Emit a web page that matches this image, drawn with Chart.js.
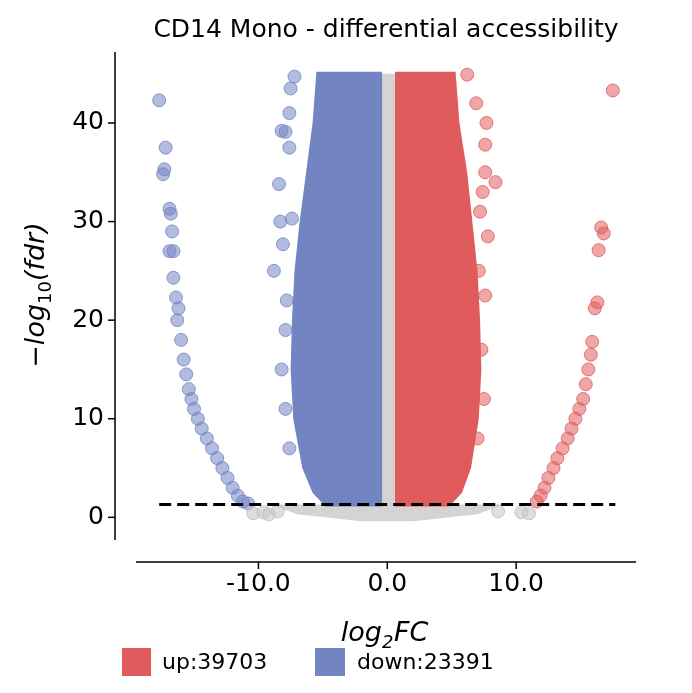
<!DOCTYPE html>
<html><head><meta charset="utf-8">
<script src="https://cdn.jsdelivr.net/npm/chart.js@4"></script>
<style>body{margin:0;background:#fff}#wrap{width:692px;height:693px}</style>
</head><body><div id="wrap"><canvas id="c"></canvas></div>
<script>
// scattered outliers
const upPoints = [[17.5,43.3],[16.6,29.4],[16.8,28.8],[16.4,27.1],[16.3,21.8],[16.1,21.2],[15.9,17.8],[15.8,16.5],[15.6,15],[15.4,13.5],[15.2,12],[14.9,11],[14.6,10],[14.3,9],[14,8],[13.6,7],[13.2,6],[12.9,5],[12.5,4],[12.2,3],[11.9,2.2],[11.6,1.6],[6.2,44.9],[7.7,40],[7.6,37.8],[7.6,35],[8.4,34],[7.4,33],[7.8,28.5],[7.6,22.5],[7.3,17],[7.1,25],[6.9,42],[7.2,31],[7.5,12],[7.0,8]];
const downPoints = [[-17.7,42.3],[-17.2,37.5],[-17.3,35.3],[-17.4,34.8],[-16.9,31.3],[-16.8,30.8],[-16.7,29],[-16.9,27],[-16.6,27],[-16.6,24.3],[-16.4,22.3],[-16.2,21.2],[-16.3,20],[-16,18],[-15.8,16],[-15.6,14.5],[-15.4,13],[-15.2,12],[-15,11],[-14.7,10],[-14.4,9],[-14,8],[-13.6,7],[-13.2,6],[-12.8,5],[-12.4,4],[-12,3],[-11.6,2.2],[-11.2,1.6],[-10.8,1.4],[-8.2,39.2],[-7.9,39.1],[-7.6,41],[-7.5,43.5],[-7.6,37.5],[-8.4,33.8],[-8.3,30],[-8.8,25],[-8.1,27.7],[-7.8,22],[-7.9,19],[-8.2,15],[-7.2,44.7],[-7.4,30.3],[-7.9,11],[-7.6,7]];
const nsPoints = [[-10.4,0.4],[-9.6,0.5],[-9.2,0.3],[10.4,0.5],[11,0.4],[-8.5,0.6],[8.6,0.6]];
// dense cores as outlines
const nsCore = [[-0.5,45],[0.6,45],[0.6,1.3],[9,1.3],[7,0.3],[2,-0.4],[-2,-0.4],[-7,0.3],[-9,1.3],[-0.5,1.3]];
const downCore = [[-5.5,45.2],[-5.8,40],[-6.3,35],[-6.8,30],[-7.2,25],[-7.4,20],[-7.5,15],[-7.3,10],[-6.6,5],[-5.8,2.5],[-4.8,1.1],[-0.4,1.1],[-0.4,45.2]];
const upCore = [[0.6,45.2],[5.3,45.2],[5.6,40],[6.2,35],[6.6,30],[7,25],[7.2,20],[7.3,15],[7.1,10],[6.5,5],[5.8,2.5],[4.8,1.1],[0.6,1.1]];
const threshold = 1.3;
const xTicks = [-10, 0, 10];
const yTicks = [0, 10, 20, 30, 40];
const upCount = 39703, downCount = 23391;

const RED = '#e05c5c', BLUE = '#7285c2', GREY = '#d4d4d4';
const toXY = a => a.map(p => ({x: p[0], y: p[1]}));

const decor = {
  id: 'decor',
  beforeDatasetsDraw(chart) {
    const {ctx, scales: {x, y}} = chart;
    const poly = (pts, col) => {
      ctx.beginPath();
      pts.forEach((p, i) => {
        const px = x.getPixelForValue(p[0]), py = y.getPixelForValue(p[1]);
        i ? ctx.lineTo(px, py) : ctx.moveTo(px, py);
      });
      ctx.closePath(); ctx.fillStyle = col; ctx.fill();
    };
    poly(nsCore, GREY); poly(downCore, BLUE); poly(upCore, RED);
  },
  afterDatasetsDraw(chart) {
    const {ctx, chartArea: a, scales: {x, y}} = chart;
    ctx.save();
    // threshold line
    ctx.setLineDash([12, 6]); ctx.lineWidth = 3; ctx.strokeStyle = '#000';
    ctx.beginPath();
    ctx.moveTo(x.getPixelForValue(-17.7), y.getPixelForValue(threshold));
    ctx.lineTo(x.getPixelForValue(17.7), y.getPixelForValue(threshold));
    ctx.stroke(); ctx.setLineDash([]);
    // spines (offset)
    ctx.lineWidth = 1.5; ctx.strokeStyle = '#000';
    const sx = a.left - 21, sy = a.bottom + 22;
    ctx.beginPath(); ctx.moveTo(sx, a.top); ctx.lineTo(sx, a.bottom);
    ctx.moveTo(a.left, sy); ctx.lineTo(a.right, sy); ctx.stroke();
    ctx.fillStyle = '#000'; ctx.font = '25px "DejaVu Sans"';
    ctx.textAlign = 'right'; ctx.textBaseline = 'middle';
    yTicks.forEach(t => {
      const py = y.getPixelForValue(t);
      ctx.beginPath(); ctx.moveTo(sx, py); ctx.lineTo(sx - 7, py); ctx.stroke();
      ctx.fillText(t, sx - 11, py);
    });
    ctx.textAlign = 'center'; ctx.textBaseline = 'top';
    xTicks.forEach(t => {
      const px = x.getPixelForValue(t);
      ctx.beginPath(); ctx.moveTo(px, sy); ctx.lineTo(px, sy + 7); ctx.stroke();
      ctx.fillText(t.toFixed(1), px, sy + 10);
    });
    // axis labels
    ctx.font = 'italic 27px "DejaVu Sans"'; ctx.textBaseline = 'alphabetic';
    const cx = (a.left + a.right) / 2;
    ctx.textAlign = 'right'; ctx.fillText('log', cx - 4, 641);
    ctx.font = 'italic 18px "DejaVu Sans"'; ctx.textAlign = 'left'; ctx.fillText('2', cx - 4, 648);
    ctx.font = 'italic 27px "DejaVu Sans"'; ctx.fillText('FC', cx + 8, 641);
    ctx.translate(44, 295); ctx.rotate(-Math.PI / 2);
    ctx.textAlign = 'left';
    const parts = [['−', '27px', 0], ['log', 'italic 27px', 0], ['10', '18px', 7], ['(fdr)', 'italic 27px', 0]];
    let w = 0; parts.forEach(p => { ctx.font = p[1] + ' "DejaVu Sans"'; w += ctx.measureText(p[0]).width; });
    let ox = -w / 2;
    parts.forEach(p => { ctx.font = p[1] + ' "DejaVu Sans"'; ctx.fillText(p[0], ox, p[2]); ox += ctx.measureText(p[0]).width; });
    ctx.restore();
    // title and legend
    ctx.save(); ctx.fillStyle = '#000';
    ctx.font = '25px "DejaVu Sans"'; ctx.textAlign = 'center'; ctx.textBaseline = 'middle';
    ctx.fillText('CD14 Mono - differential accessibility', 386, 30);
    ctx.fillStyle = RED; ctx.fillRect(122, 648, 29, 28);
    ctx.fillStyle = BLUE; ctx.fillRect(315, 648, 30, 28);
    ctx.fillStyle = '#000'; ctx.font = '22px "DejaVu Sans"'; ctx.textAlign = 'left';
    ctx.fillText('up:' + upCount, 162, 663);
    ctx.fillText('down:' + downCount, 357, 663);
    ctx.restore();
  }
};

new Chart(document.getElementById('c'), {
  type: 'scatter',
  data: {datasets: [
    {data: toXY(nsPoints), backgroundColor: 'rgba(200,200,200,0.6)', borderColor: 'rgba(190,190,190,0.8)', pointRadius: 6.5},
    {data: toXY(downPoints), backgroundColor: 'rgba(114,133,194,0.55)', borderColor: 'rgba(114,133,194,0.8)', pointRadius: 6.5},
    {data: toXY(upPoints), backgroundColor: 'rgba(224,92,92,0.55)', borderColor: 'rgba(224,92,92,0.8)', pointRadius: 6.5}
  ]},
  options: {
    responsive: true, maintainAspectRatio: false, animation: false,
    layout: {padding: {left: 136, right: 56, top: 52, bottom: 153}},
    plugins: {legend: {display: false}, tooltip: {enabled: false}},
    scales: {
      x: {display: false, min: -19.5, max: 19.3},
      y: {display: false, min: -2.3, max: 47.2}
    }
  },
  plugins: [decor]
});
</script></body></html>
